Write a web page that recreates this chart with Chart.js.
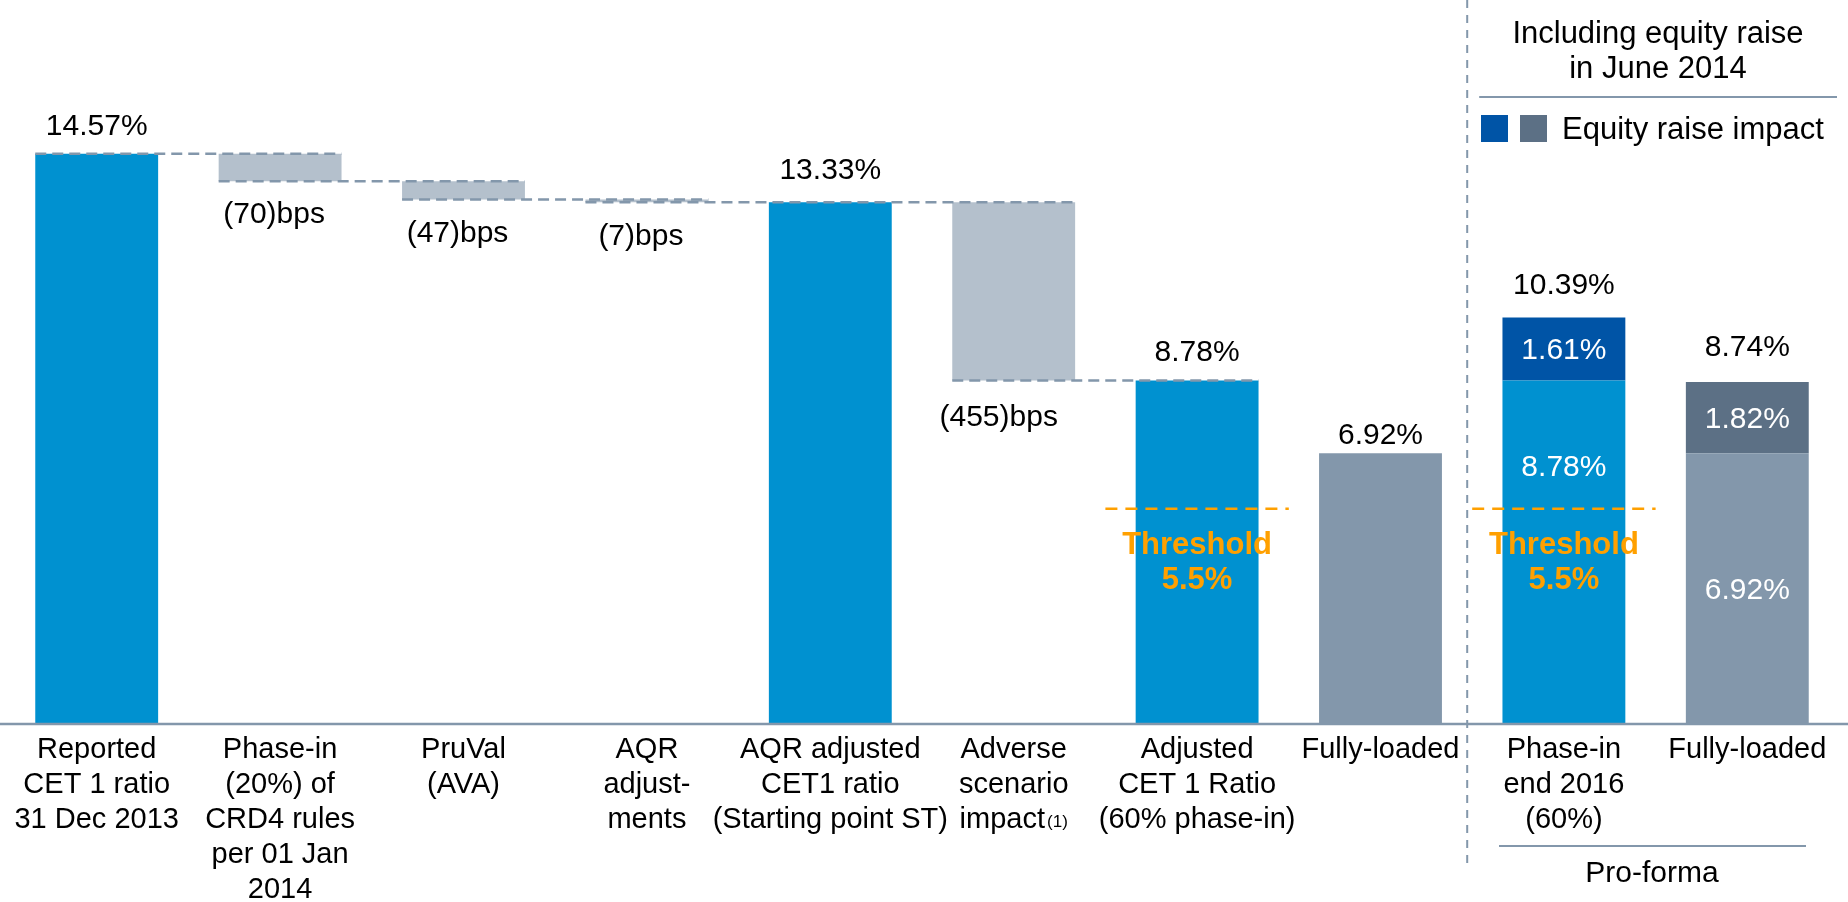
<!DOCTYPE html>
<html lang="en">
<head>
    <meta charset="UTF-8">
    <title>CET 1 ratio bridge</title>
    <style>
        body { margin: 0; background: #fff; }
        #wrap { width: 1848px; height: 902px; }
    </style>
</head>
<body>
    <div id="wrap">
        <canvas id="bridgeChart" width="1848" height="902"></canvas>
    </div>
    <script src="https://cdn.jsdelivr.net/npm/chart.js"></script>

    <script>
        // category labels (one array entry per line)
        const categories = [
            ['Reported', 'CET 1 ratio', '31 Dec 2013'],
            ['Phase-in', '(20%) of', 'CRD4 rules', 'per 01 Jan', '2014'],
            ['PruVal', '(AVA)'],
            ['AQR', 'adjust-', 'ments'],
            ['AQR adjusted', 'CET1 ratio', '(Starting point ST)'],
            ['Adverse', 'scenario', 'impact'],
            ['Adjusted', 'CET 1 Ratio', '(60% phase-in)'],
            ['Fully-loaded'],
            ['Phase-in', 'end 2016', '(60%)'],
            ['Fully-loaded']
        ];

        // waterfall bars, in % (start and end of each floating bar)
        const barStart = [0, 13.87, 13.40, 13.33, 0, 8.78, 0, 0, 0, 0];
        const barEnd = [14.57, 14.57, 13.87, 13.40, 13.33, 13.33, 8.78, 6.92, 8.78, 6.92];
        const barKind = ['total', 'delta', 'delta', 'delta', 'total', 'delta', 'total', 'loaded', 'total', 'loaded'];

        // equity raise impact on top of the pro-forma bars
        const equityRaise = [null, null, null, null, null, null, null, null, 1.61, 1.82];

        // texts printed on the chart
        const totalLabels = ['14.57%', null, null, null, '13.33%', null, '8.78%', '6.92%', '10.39%', '8.74%'];
        const bpsLabels = [null, '(70)bps', '(47)bps', '(7)bps', null, '(455)bps', null, null, null, null];
        const insideLabels = [null, null, null, null, null, null, null, null, '8.78%', '6.92%'];
        const equityLabels = [null, null, null, null, null, null, null, null, '1.61%', '1.82%'];

        const threshold = 5.5;
        const thresholdBars = [6, 8];

        const COLORS = {
            total: '#0091d0',
            delta: '#b4c0cc',
            loaded: '#8397ab',
            equity: ['#0054a6', '#5c7085'],
            line: '#8397ab',
            orange: '#ffa000'
        };
        const FONT = '"Liberation Sans", Arial, sans-serif';

        // gap between a bar top and its label, px
        const labelLift = [27, 0, 0, 0, 32, 0, 28, 17, 32, 34];

        const equityData = equityRaise.map((v, i) => v === null ? null : [barEnd[i], barEnd[i] + v]);

        const annotations = {
            id: 'annotations',
            afterDatasetsDraw(chart) {
                const ctx = chart.ctx;
                const x = chart.scales.x;
                const y = chart.scales.y;
                const meta = chart.getDatasetMeta(0);
                const half = meta.data[0].width / 2;
                const step = x.getPixelForValue(1) - x.getPixelForValue(0);

                ctx.save();

                // connector dashes between the waterfall steps
                ctx.strokeStyle = COLORS.line;
                ctx.lineWidth = 2.5;
                ctx.setLineDash([11, 6]);
                const links = [[0, 1], [1, 2], [2, 3], [3, 5], [5, 6]];
                links.forEach(([a, b]) => {
                    const level = a === 0 ? barEnd[0] : barStart[a];
                    const py = y.getPixelForValue(level);
                    ctx.beginPath();
                    ctx.moveTo(x.getPixelForValue(a) - half, py);
                    ctx.lineTo(x.getPixelForValue(b) + half, py);
                    ctx.stroke();
                });

                // base line
                ctx.setLineDash([]);
                ctx.lineWidth = 2.5;
                ctx.beginPath();
                ctx.moveTo(0, y.getPixelForValue(0));
                ctx.lineTo(chart.width, y.getPixelForValue(0));
                ctx.stroke();

                // threshold lines
                ctx.strokeStyle = COLORS.orange;
                ctx.lineWidth = 2.5;
                ctx.setLineDash([12, 8]);
                thresholdBars.forEach(i => {
                    const cx = x.getPixelForValue(i);
                    const py = y.getPixelForValue(threshold);
                    ctx.beginPath();
                    ctx.moveTo(cx - step / 2, py);
                    ctx.lineTo(cx + step / 2, py);
                    ctx.stroke();
                    ctx.fillStyle = COLORS.orange;
                    ctx.font = 'bold 31px ' + FONT;
                    ctx.textAlign = 'center';
                    ctx.textBaseline = 'middle';
                    ctx.fillText('Threshold', cx, py + 37);
                    ctx.fillText(threshold + '%', cx, py + 72);
                });

                // vertical separator for the pro-forma part
                ctx.strokeStyle = COLORS.line;
                ctx.lineWidth = 2;
                ctx.setLineDash([8, 7]);
                const sepX = (x.getPixelForValue(7) + x.getPixelForValue(8)) / 2 - 5;
                ctx.beginPath();
                ctx.moveTo(sepX, 0);
                ctx.lineTo(sepX, 870);
                ctx.stroke();
                ctx.setLineDash([]);

                // value labels
                ctx.textAlign = 'center';
                ctx.textBaseline = 'middle';
                ctx.font = '30px ' + FONT;
                ctx.fillStyle = '#000';
                categories.forEach((c, i) => {
                    const cx = x.getPixelForValue(i);
                    if (totalLabels[i]) {
                        const top = barEnd[i] + (equityRaise[i] || 0);
                        ctx.fillText(totalLabels[i], cx, y.getPixelForValue(top) - labelLift[i]);
                    }
                    if (bpsLabels[i]) {
                        const dx = i === 5 ? -15 : -6;
                        const dy = i === 5 ? 37 : 34;
                        ctx.fillText(bpsLabels[i], cx + dx, y.getPixelForValue(barStart[i]) + dy);
                    }
                });
                ctx.fillStyle = '#fff';
                categories.forEach((c, i) => {
                    const cx = x.getPixelForValue(i);
                    if (equityLabels[i]) {
                        ctx.fillText(equityLabels[i], cx, y.getPixelForValue(barEnd[i] + equityRaise[i] / 2) + 2);
                    }
                    if (insideLabels[i]) {
                        const py = i === 8 ? y.getPixelForValue(barEnd[i]) + 87 : y.getPixelForValue(barEnd[i] / 2) + 2;
                        ctx.fillText(insideLabels[i], cx, py);
                    }
                });

                // category labels under the axis
                ctx.fillStyle = '#000';
                categories.forEach((lines, i) => {
                    const cx = x.getPixelForValue(i);
                    lines.forEach((line, k) => {
                        const py = y.getPixelForValue(0) + 26 + k * 35;
                        if (i === 5 && k === 2) {
                            // footnote mark in a smaller size
                            ctx.font = '29px ' + FONT;
                            const w1 = ctx.measureText(line).width;
                            ctx.font = '17px ' + FONT;
                            const w2 = ctx.measureText('(1)').width + 2;
                            const left = cx - (w1 + w2) / 2;
                            ctx.textAlign = 'left';
                            ctx.fillText('(1)', left + w1 + 2, py + 2);
                            ctx.font = '29px ' + FONT;
                            ctx.fillText(line, left, py);
                            ctx.textAlign = 'center';
                        } else {
                            ctx.font = '29px ' + FONT;
                            ctx.fillText(line, cx, py);
                        }
                    });
                });

                // pro-forma header and footer
                ctx.strokeStyle = COLORS.line;
                ctx.lineWidth = 2;
                ctx.beginPath();
                ctx.moveTo(sepX + 12, 97);
                ctx.lineTo(1837, 97);
                ctx.stroke();
                ctx.beginPath();
                ctx.moveTo(1499, 846);
                ctx.lineTo(1806, 846);
                ctx.stroke();

                ctx.font = '31px ' + FONT;
                ctx.fillText('Including equity raise', 1658, 34);
                ctx.fillText('in June 2014', 1658, 69);
                ctx.font = '30px ' + FONT;
                ctx.fillText('Pro-forma', 1652, 874);

                // legend
                ctx.fillStyle = COLORS.equity[0];
                ctx.fillRect(1481, 115, 27, 27);
                ctx.fillStyle = COLORS.equity[1];
                ctx.fillRect(1520, 115, 27, 27);
                ctx.fillStyle = '#000';
                ctx.textAlign = 'left';
                ctx.font = '31px ' + FONT;
                ctx.fillText('Equity raise impact', 1562, 130);

                ctx.restore();
            }
        };

        new Chart(document.getElementById('bridgeChart'), {
            type: 'bar',
            data: {
                labels: categories,
                datasets: [
                    {
                        label: 'CET 1 ratio',
                        data: categories.map((c, i) => [barStart[i], barEnd[i]]),
                        backgroundColor: barKind.map(k => COLORS[k]),
                        barPercentage: 0.67,
                        categoryPercentage: 1,
                        grouped: false
                    },
                    {
                        label: 'Equity raise impact',
                        data: equityData,
                        backgroundColor: equityRaise.map((v, i) => i === 8 ? COLORS.equity[0] : COLORS.equity[1]),
                        barPercentage: 0.67,
                        categoryPercentage: 1,
                        grouped: false
                    }
                ]
            },
            options: {
                responsive: false,
                animation: false,
                devicePixelRatio: 1,
                layout: {
                    padding: { left: 5, right: 9, top: 0, bottom: 178 }
                },
                scales: {
                    x: { display: false },
                    y: { display: false, min: 0, max: 18.5 }
                },
                plugins: {
                    legend: { display: false },
                    tooltip: { enabled: false }
                }
            },
            plugins: [annotations]
        });
    </script>
</body>
</html>
